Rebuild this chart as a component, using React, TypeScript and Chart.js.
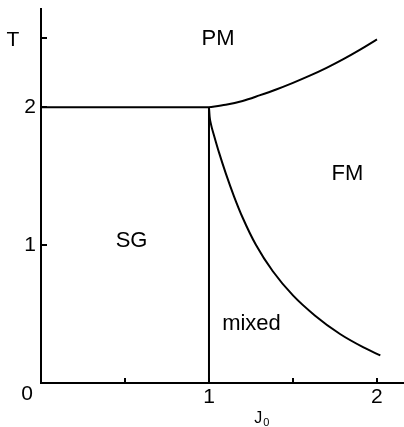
import React, { useEffect, useRef } from "react";
import { Chart, registerables } from "chart.js";

Chart.register(...registerables);

// Phase boundaries (J0, T)
const spgJ = [0, 1];
const spgT = [2, 2];
const verticalJ = [1, 1];
const verticalT = [0, 2];
const upperJ = [1, 1.1, 1.2, 1.3, 1.4, 1.5, 1.6, 1.7, 1.8, 1.9, 2.0];
const upperT = [2.0, 2.017, 2.045, 2.085, 2.128, 2.176, 2.228, 2.285, 2.348, 2.417, 2.491];
const lowerJ = [1, 1.004, 1.012, 1.03, 1.06, 1.1, 1.15, 1.2, 1.28, 1.38, 1.5, 1.63, 1.78, 1.92, 2.02];
const lowerT = [2.0, 1.93, 1.875, 1.795, 1.67, 1.52, 1.35, 1.2, 1.0, 0.81, 0.635, 0.49, 0.355, 0.258, 0.2];

// Axis ticks
const xTickValues = [1, 2];
const xTickLabels = ["1", "2"];
const yTickValues = [1, 2];
const yTickLabels = ["1", "2"];
const xMarkValues = [0.5, 1, 1.5, 2];
const yMarkValues = [1, 2, 2.5];

// Region labels
const regionNames = ["PM", "FM", "SG", "mixed"];
const regionJ = [1.054, 1.824, 0.539, 1.253];
const regionT = [2.449, 1.471, 0.986, 0.384];

const FONT = "'Liberation Sans', Arial, Helvetica, sans-serif";

const toPts = (xs: number[], ys: number[]) => xs.map((x, i) => ({ x, y: ys[i] }));

const annotationPlugin = {
  id: "phaseAnnotations",
  afterDraw(chart: any) {
    const ctx = chart.ctx;
    const xs = chart.scales.x;
    const ys = chart.scales.y;
    const area = chart.chartArea;
    ctx.save();
    ctx.strokeStyle = "#000";
    ctx.lineWidth = 2;
    // inward tick marks
    xMarkValues.forEach((v) => {
      const px = Math.round(xs.getPixelForValue(v));
      ctx.beginPath();
      ctx.moveTo(px, area.bottom);
      ctx.lineTo(px, area.bottom - 5);
      ctx.stroke();
    });
    yMarkValues.forEach((v) => {
      const py = Math.round(ys.getPixelForValue(v));
      ctx.beginPath();
      ctx.moveTo(area.left, py);
      ctx.lineTo(area.left + 6, py);
      ctx.stroke();
    });
    ctx.fillStyle = "#000";
    // region labels
    ctx.font = `22px ${FONT}`;
    ctx.textAlign = "center";
    ctx.textBaseline = "alphabetic";
    regionNames.forEach((name, i) => {
      ctx.fillText(name, xs.getPixelForValue(regionJ[i]), ys.getPixelForValue(regionT[i]));
    });
    // axis names
    ctx.font = `21px ${FONT}`;
    ctx.fillText("T", area.left - 28, ys.getPixelForValue(2.5) + 8);
    ctx.fillText("0", area.left - 14, area.bottom + 17);
    ctx.textAlign = "left";
    ctx.font = `16px ${FONT}`;
    const jx = xs.getPixelForValue(1.27);
    ctx.fillText("J", jx, area.bottom + 40);
    const jw = ctx.measureText("J").width;
    ctx.font = `11px ${FONT}`;
    ctx.fillText("0", jx + jw + 1, area.bottom + 43);
    ctx.restore();
  },
};

export default function App() {
  const canvasRef = useRef<HTMLCanvasElement | null>(null);

  useEffect(() => {
    if (!canvasRef.current) return;
    const lineDs = (data: { x: number; y: number }[], smooth: boolean) => ({
      data,
      showLine: true,
      borderColor: "#000",
      borderWidth: 2,
      pointRadius: 0,
      fill: false,
      tension: smooth ? 0.4 : 0,
      cubicInterpolationMode: smooth ? ("monotone" as const) : ("default" as const),
    });
    const chart = new Chart(canvasRef.current, {
      type: "scatter",
      data: {
        datasets: [
          lineDs(toPts(spgJ, spgT), false),
          lineDs(toPts(verticalJ, verticalT), false),
          lineDs(toPts(upperJ, upperT), true),
          lineDs(toPts(lowerJ, lowerT), true),
        ],
      },
      options: {
        animation: false,
        responsive: false,
        layout: { padding: { top: 9, right: 1, left: 0, bottom: 0 } },
        plugins: { legend: { display: false }, tooltip: { enabled: false }, title: { display: false } },
        scales: {
          x: {
            type: "linear",
            min: 0,
            max: 2.155,
            grid: { display: false, drawTicks: false },
            border: { display: true, color: "#000", width: 2 },
            afterFit: (s: any) => {
              s.height = 44;
            },
            afterBuildTicks: (s: any) => {
              s.ticks = xTickValues.map((v) => ({ value: v }));
            },
            ticks: {
              color: "#000",
              padding: 6,
              maxRotation: 0,
              font: { family: FONT, size: 21, lineHeight: 0.8 },
              callback: (v: any) => {
                const i = xTickValues.indexOf(Number(v));
                return i >= 0 ? xTickLabels[i] : "";
              },
            },
          },
          y: {
            type: "linear",
            min: 0,
            max: 2.71,
            grid: { display: false, drawTicks: false },
            border: { display: true, color: "#000", width: 2 },
            afterFit: (s: any) => {
              s.width = 41;
            },
            afterBuildTicks: (s: any) => {
              s.ticks = yTickValues.map((v) => ({ value: v }));
            },
            ticks: {
              color: "#000",
              padding: 5,
              font: { family: FONT, size: 21, lineHeight: 0.4 },
              callback: (v: any) => {
                const i = yTickValues.indexOf(Number(v));
                return i >= 0 ? yTickLabels[i] : "";
              },
            },
          },
        },
      },
      plugins: [annotationPlugin],
    });
    return () => chart.destroy();
  }, []);

  return (
    <div style={{ position: "absolute", left: 0, top: 0, width: 404, height: 427, background: "#fff" }}>
      <canvas ref={canvasRef} width={404} height={427} />
    </div>
  );
}
